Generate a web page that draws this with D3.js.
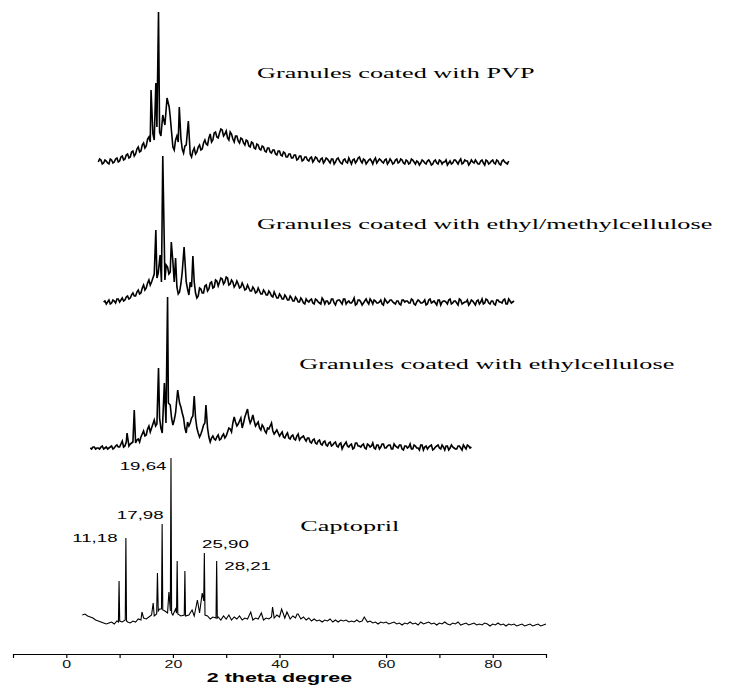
<!DOCTYPE html>
<html>
<head>
<meta charset="utf-8">
<script src="https://cdn.jsdelivr.net/npm/d3@7"></script>
<style>
  body { margin: 0; background: #fff; }
  svg { display: block; }
</style>
</head>
<body>
<svg id="chart" width="731" height="686"></svg>
<script>
// x axis ticks (2 theta, degrees)
var majorTicks = [0, 20, 40, 60, 80];
var minorTicks = [-10, 10, 30, 50, 70, 90];

// samples, top to bottom
var sampleNames = [
    "Granules coated with PVP",
    "Granules coated with ethyl/methylcellulose",
    "Granules coated with ethylcellulose",
    "Captopril"
];

// stacking offset of each pattern (counts)
var offsets = [4610, 3210, 1750, 0];

// first 2 theta of each scan, scan step
var scanStart = [6.0, 7.0, 4.5, 3.0];
var scanStep = 0.5;

// counts above the pattern baseline, one value per step
var pvpCounts = [0,20,-10,10,-20,20,0,40,10,60, 30,80,50,110,80,150,110,190,160,250,
    300,220,350,300,400,370,500,450,150,220, 200,240,90,170,120,50,140,100,170,130,
    220,170,280,220,300,240,330,260,310,220, 280,200,260,190,230,170,210,150,190,130,
    170,120,150,100,140,90,120,70,110,60, 90,50,80,40,70,30,60,20,50,10,
    50,20,40,0,40,10,30,-10,30,
    0,40,-10,20,0,40,-20,30,10,50, -10,20,0,30,-20,40,10,20,-10,30,
    0,10,-10,30,0,20,-20,10,-10,20, -20,0,-10,10,-20,20,-30,10,-10,20,
    -20,0,-30,10,-10,20,-20,30,-10,10, -30,20,-10,0,-20,20,-30,10,-10,20,
    -20,10,-30,20,-10,10];
// readings half way between the steps above
var pvpMid = [30,-20,20,-10,30,-10,30,0, 50,20,70,40,100,60,130,100,170,140,
    230,200,280,300,300,260,350,420,400,300, 120,260,300,130,160,250,80,110,80,150,
    120,190,180,240,200,290,250,290,320,280, 240,300,230,260,210,240,190,220,160,200,
    140,180,130,160,110,140,100,120,80,110, 70,100,50,80,40,70,20,60,10,50,
    20,40,0,50,10,30,-10,40,10,30, -20,
    30,10,-20,30,-10,10,20,-10,40,10, 30,-20,20,10,20,-10,30,0,20,-20,
    30,-20,20,-10,30,-10,20,-20,30,0, 10,-30,20,-10,10,0,-20,20,-20,10,
    0,20,-10,-20,20,0,10,-20,20,10, -10,0,20,-20,10,-10,20,-20,10,-10,
    20,-20,10,0,-20];

var emcCounts = [0,-20,20,-10,10,30,0,40,20,60, 40,90,60,120,90,170,140,220,200,280,
    240,330,260,220,350,300,400,440,80,180, 140,200,70,150,200,40,140,90,160,110,
    190,140,220,160,240,180,250,170,220,150, 210,140,190,120,170,110,150,90,140,80,
    120,70,110,60,100,40,80,30,70,20, 60,10,50,0,40,-10,30,
    0,30,-20,20,-10,40,-20,10,-10,30, -30,20,0,30,-20,10,-10,40,-20,20,
    -30,10,0,30,-20,10,-10,20,-30,10, 0,20,-10,10,-20,20,0,10,-10,20,
    -30,20,-10,0,-30,20,-10,10,-30,20, 0,10,-20,30,-10,10,-30,20,-10,0,
    -30,20,-10,10,-20,30,-10,20,-20,10, -30,20,0,20,-20,30,-10,10];
var emcMid = [10,0,-20,20,-10,30, 20,10,50,30,70,60,100,80,140,120,
    190,170,240,250,290,200,300,280,280,350, 200,150,100,300,110,130,200,110,90,60,
    130,90,170,130,200,150,210,200,230,200, 240,180,200,170,180,150,160,130,140,110,
    130,100,110,80,100,70,90,50,70,40, 60,30,50,20,40,10,30,0,20,
    -20,10,20,-10,30,0,-20,20,10,-20, 30,-10,10,20,-20,30,0,-10,10,-30,
    20,0,-10,30,-20,10,20,-10,0,-20, 30,-10,20,0,-20,10,-30,20,10,-10,
    30,-20,0,10,-10,20,-20,30,0,-10, 20,-30,10,0,20,-20,10,-10,30,-20,
    0,20,-10,10,-30,20,0,-20,30,-10, 10,-20,20,0,-10,30,-20,10];

var ecCounts = [0,10,-10,0,10,-10,10,0,20,0, 30,10,70,20,150,40,60,50,90,110,
    170,130,220,200,280,240,300,150,400,350, 430,230,350,500,410,300,150,220,300,250,
    200,110,180,250,200,60,120,80,130,90, 140,120,200,160,310,220,270,200,310,390,
    250,330,220,260,180,210,150,190,250,140, 180,120,160,100,150,90,130,80,140,100,
    120,70,100,50,90,40,80,30,70,20, 60,30,60,10,50,20,60,10,40,0,
    50,20,30,0,40,10,50,-10,30,10, 40,0,30,-10,40,10,30,-10,20,0,
    40,-10,20,0,30,-20,20,10,30,-10, 20,0,30,-20,20,0,10,-10,20,0,
    30,-10,20,10];
var ecMid = [-10, 10,0,-10,20,0,-10,10,-10,20,10, 40,10,60,20,50,40,80,60,140,120,
    190,160,240,220,300,200,300,380,380,300, 280,420,450,350,200,260,250,320,300,150,
    140,230,300,110,100,90,110,80,120,100, 160,190,250,260,240,300,250,350,300,280,
    270,240,200,230,170,200,220,170,160,150, 140,110,130,100,120,90,120,80,110,90,
    100,60,80,50,70,40,60,30,50,20,
    50,20,40,-10,40,20,30,-10,50,20, 10,40,-10,30,20,0,30,-10,40,0,
    20,30,-10,20,0,30,-20,20,10,-10, 30,0,-20,30,10,-10,20,-20,10,30,
    -10,10,20,-20,30,0,-10,20,-20,10, 30,0];

var capCounts = [80,90,70,60,50,30,20,10,0,-10, 0,10,-10,20,10,10,30,10,0,20,
    10,40,30,50,40,60,80,70,100,140, 120,120,100,150,80,140,100,70,90,60,
    80,50,70,100,100,300,100,70,40,60, 50,60,30,70,40,80,30,60,40,70,
    30,50,40,110,30,50,40,100,30,50, 40,60,50,80,60,140,50,110,40,70,
    50,90,40,60,30,50,20,40,20,30, 10,30,20,40,10,30,10,30,20,30,
    10,20,10,30,10,20,60,10,20,0, 10,-10,10,0,10,-10,0,10,-10,0,
    -20,0,-10,10,-10,0,-20,10,-10,0, 10,-10,0,-20,0,-10,10,-10,-20,0,
    -10,10,-20,-10,0,-20,-10,0,-20,-10, -20,0,-10,-30,-10,-20,0,-20,-10,-30,
    -10,-20,-10,-30,-20,-10,-30,-20,-10,-30, -20,-10,-30,-20,-10];

// sharp reflections read at finer 2 theta: [2 theta, counts]
var pvpPeaks = [[15.9, 720], [16.8, 790], [17.3, 1500], [18.1, 470], [18.9, 640],
    [19.3, 550], [21.2, 550], [22.9, 410]];
var emcPeaks = [[16.8, 720], [17.6, 470], [17.85, 200], [18.1, 1460], [18.75, 370],
    [19.7, 600], [22.1, 550], [23.75, 460]];
var ecPeaks = [[11.4, 150], [12.75, 380], [17.3, 800], [18.4, 650], [18.7, 250],
    [19.0, 1510], [19.15, 450], [20.9, 580], [24.0, 520], [26.2, 430]];
var capPeaks = [[9.78, 10], [9.9, 420], [10.02, 20],
    [11.06, 30], [11.18, 850], [11.3, 20], [14.2, 110], [16.3, 200],
    [16.95, 90], [17.1, 500], [17.25, 120], [17.86, 140], [17.98, 990], [18.1, 130],
    [19.25, 310], [19.52, 120], [19.64, 1650], [19.76, 100],
    [20.68, 100], [20.8, 620], [20.92, 90], [22.13, 80], [22.25, 520], [22.37, 70],
    [23.6, 130], [24.6, 230], [25.78, 220], [25.9, 700], [26.02, 80],
    [28.09, 50], [28.21, 620], [28.33, 50], [34.6, 110], [36.6, 100], [38.7, 160],
    [40.4, 140], [41.4, 110], [43.3, 90], [55.9, 60]];

// labelled captopril reflections
var peakLabels = ["11,18", "17,98", "19,64", "25,90", "28,21"];
var peakLabelAt = [11.18, 17.98, 19.64, 25.90, 28.21];

var svg = d3.select("#chart");
svg.append("rect").attr("width", 731).attr("height", 686).attr("fill", "#fff");

var x = d3.scaleLinear().domain([-10, 90]).range([13, 546]);
var y = d3.scaleLinear().domain([0, 6000]).range([623, 23]);

// merge the step readings, the half-step readings and the peaks into one scan
function pattern(start, counts, mids, peaks, offset) {
    var pts = counts.map(function(c, i) { return [start + i * scanStep, c]; })
        .concat(mids.map(function(c, i) { return [start + (i + 0.5) * scanStep, c]; }))
        .filter(function(p) {
            return !peaks.some(function(k) { return Math.abs(k[0] - p[0]) < 0.15; });
        });
    pts = pts.concat(peaks).sort(function(a, b) { return a[0] - b[0]; });
    return pts.map(function(p) { return [p[0], p[1] + offset]; });
}

var patterns = [
    pattern(scanStart[0], pvpCounts, pvpMid, pvpPeaks, offsets[0]),
    pattern(scanStart[1], emcCounts, emcMid, emcPeaks, offsets[1]),
    pattern(scanStart[2], ecCounts, ecMid, ecPeaks, offsets[2]),
    pattern(scanStart[3], capCounts, [], capPeaks, offsets[3])
];

var line = d3.line()
    .x(function(d) { return x(d[0]); })
    .y(function(d) { return y(d[1]); });

// the coated granule scans are noisier and print heavier than the captopril one
svg.append("g")
    .selectAll("path")
    .data(patterns).enter()
    .append("path")
    .attr("d", line)
    .attr("fill", "none")
    .attr("stroke", "#000")
    .attr("stroke-width", function(d, i) { return i < 3 ? 1.6 : 1.1; });

// sample names (the figure is stretched sideways, so is the text)
var titlePos = [[35.8, 5450], [35.8, 3940], [43.7, 2540], [43.9, 920]];
svg.append("g")
    .selectAll("text")
    .data(sampleNames).enter()
    .append("text")
    .attr("transform", function(d, i) {
        return "translate(" + x(titlePos[i][0]) + "," + y(titlePos[i][1]) + ") scale(1.75,1)";
    })
    .attr("font-family", "'Liberation Serif', 'Times New Roman', serif")
    .attr("font-size", 15)
    .attr("fill", "#000")
    .text(function(d) { return d; });

// peak labels on captopril
var labelShift = [[-8.3, 4, "end"], [1.5, -5, "end"], [-4.5, 12, "end"], [-2.3, -5, "start"], [7.6, 9, "start"]];
var capDetail = d3.rollup(capPeaks, function(v) { return v[0][1]; }, function(d) { return d[0]; });
svg.append("g")
    .selectAll("text")
    .data(peakLabels).enter()
    .append("text")
    .attr("transform", function(d, i) {
        var px = x(peakLabelAt[i]) + labelShift[i][0];
        var py = y(capDetail.get(peakLabelAt[i])) + labelShift[i][1];
        return "translate(" + px + "," + py + ") scale(1.7,1)";
    })
    .attr("text-anchor", function(d, i) { return labelShift[i][2]; })
    .attr("font-family", "'Liberation Sans', Arial, sans-serif")
    .attr("font-size", 11)
    .attr("fill", "#000")
    .text(function(d) { return d; });

// x axis
var axisY = 654;
var xAxis = d3.axisBottom(x)
    .tickValues(majorTicks)
    .tickSize(4)
    .tickSizeOuter(0)
    .tickPadding(2);

var gx = svg.append("g")
    .attr("transform", "translate(0," + axisY + ")")
    .call(xAxis);
gx.select(".domain").attr("stroke", "#000").attr("stroke-width", 1.2);
gx.selectAll(".tick line").attr("stroke", "#000").attr("stroke-width", 1.2);
gx.selectAll(".tick text")
    .attr("font-family", "'Liberation Sans', Arial, sans-serif")
    .attr("font-size", 11)
    .attr("fill", "#111")
    .attr("transform", "scale(1.45,1)");

var gm = svg.append("g")
    .attr("transform", "translate(0," + axisY + ")")
    .call(d3.axisBottom(x).tickValues(minorTicks).tickSize(4).tickSizeOuter(0).tickFormat(""));
gm.select(".domain").remove();
gm.selectAll(".tick line").attr("stroke", "#000").attr("stroke-width", 1.2);

svg.append("text")
    .attr("transform", "translate(" + x(40) + ",682) scale(1.65,1)")
    .attr("text-anchor", "middle")
    .attr("font-family", "'Liberation Sans', Arial, sans-serif")
    .attr("font-weight", "bold")
    .attr("font-size", 13)
    .attr("fill", "#000")
    .text("2 theta degree");
</script>
</body>
</html>
